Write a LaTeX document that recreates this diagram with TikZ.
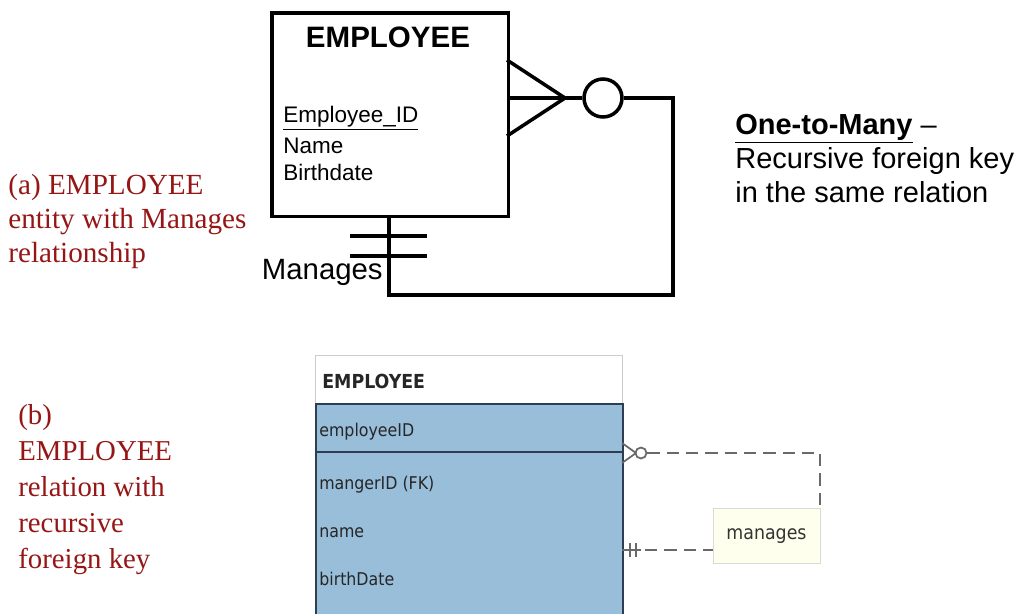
\documentclass[tikz,border=0pt]{standalone}
\usepackage{fontspec}
\setmainfont{Liberation Serif}
\setsansfont{Liberation Sans}
\newfontfamily\tablefont{DejaVu Sans Condensed}
\usetikzlibrary{positioning}
\definecolor{capred}{RGB}{150,22,22}
\definecolor{rowblue}{RGB}{153,190,218}
\definecolor{rimblue}{RGB}{45,62,82}
\definecolor{notecream}{RGB}{255,255,238}
\definecolor{dashgray}{RGB}{105,105,105}

\tikzset{
  erline/.style={line width=2pt},
  attr/.style={anchor=west,font=\sffamily\fontsize{12.8}{14}\selectfont,inner sep=0pt},
  caption/.style={anchor=base west,align=left,text=capred,inner sep=0pt},
  tblattr/.style={anchor=west,font=\tablefont\fontsize{10}{12}\selectfont,text=black!85,inner sep=0pt},
  reldash/.style={dashgray,line width=1.1pt,dash pattern=on 7pt off 4pt},
}

\begin{document}
\begin{tikzpicture}[x=0.02cm,y=-0.02cm]
\useasboundingbox (0,0) rectangle (1024,613);

% (a) ER diagram
\node[draw,erline,anchor=north west,minimum width=4.74cm,minimum height=4.08cm] (emp) at (270,11) {};
\node[font=\sffamily\bfseries\fontsize{16.8}{18}\selectfont] (empname) at (388,37) {EMPLOYEE};
\node[attr] (empid) at (283,118) {\underline{Employee\_ID}};
\node[attr] (ename) at (283,146) {Name};
\node[attr] (ebirth) at (283,172) {Birthdate};

\coordinate (crow) at (565,98);
\draw[erline] (507,60) -- (crow);
\draw[erline] (507,98) -- (crow);
\draw[erline] (507,136) -- (crow);
\node[draw,erline,circle,minimum size=0.76cm,inner sep=0pt] (opt) at (603,98) {};
\draw[erline] (crow) -- (opt);

\coordinate (one) at (389,215);
\coordinate (bend) at (673,295);
\draw[erline] (opt.east) -| (bend) -| (one);
\draw[erline] (350,236) -- (427,236);
\draw[erline] (350,256) -- (427,256);
\node[anchor=east,font=\sffamily\fontsize{16.7}{18}\selectfont,inner sep=0pt] (manages) at (383,272) {Manages};

\node[anchor=base west,align=left,inner sep=0pt,font=\sffamily\fontsize{16.5}{19.3}\selectfont] (note) at (735,202)
  {\textbf{\underline{One-to-Many}} --\\Recursive foreign key\\in the same relation};

\node[caption,font=\fontsize{16.6}{19.3}\selectfont] (capa) at (8,262)
  {(a) EMPLOYEE\\entity with Manages\\relationship};

% (b) relation
\node[caption,font=\fontsize{16.4}{20.4}\selectfont] (capb) at (18,568)
  {(b)\\EMPLOYEE\\relation with\\recursive\\foreign key};

\node[draw=black!20,fill=white,anchor=north west,minimum width=6.14cm,minimum height=0.96cm] (thead) at (315,355) {};
\node[draw=rimblue,fill=rowblue,line width=0.9pt,anchor=north west,minimum width=6.14cm,minimum height=4.4cm] (tbody) at (315,403) {};
\draw[rimblue,line width=1.2pt] (315,452) -- (622,452);
\node[tblattr,font=\tablefont\bfseries\fontsize{11}{13}\selectfont] (tname) at (322,381) {EMPLOYEE};
\node[tblattr] (tid) at (319,432) {employeeID};
\foreach \y/\t in {485/mangerID (FK),533/name,579/birthDate}{
  \node[tblattr] (t\y) at (319,\y) {\t};
}

\coordinate (fkcrow) at (636,453);
\draw[dashgray,line width=1pt] (622,443) -- (fkcrow);
\draw[dashgray,line width=1pt] (622,463) -- (fkcrow);
\node[draw=dashgray,line width=1pt,circle,minimum size=0.22cm,inner sep=0pt] (zero) at (641,453) {};
\node[draw=black!15,fill=notecream,minimum width=2.14cm,minimum height=1.1cm] (mgbox) at (766.5,535.5) {};
\node[font=\tablefont\fontsize{11}{13}\selectfont,text=black!80] (mglabel) at (766.5,536) {manages};
\draw[reldash] (zero.east) -| (mgbox.north east);

\coordinate (mgin) at (713,550);
\coordinate (fkone) at (622,550);
\draw[dashgray,line width=1pt] (fkone) -- (641,550);
\draw[reldash] (645,550) -- (mgin);
\draw[dashgray,line width=1pt] (630,543) -- (630,557);
\draw[dashgray,line width=1pt] (636,543) -- (636,557);
\end{tikzpicture}
\end{document}
